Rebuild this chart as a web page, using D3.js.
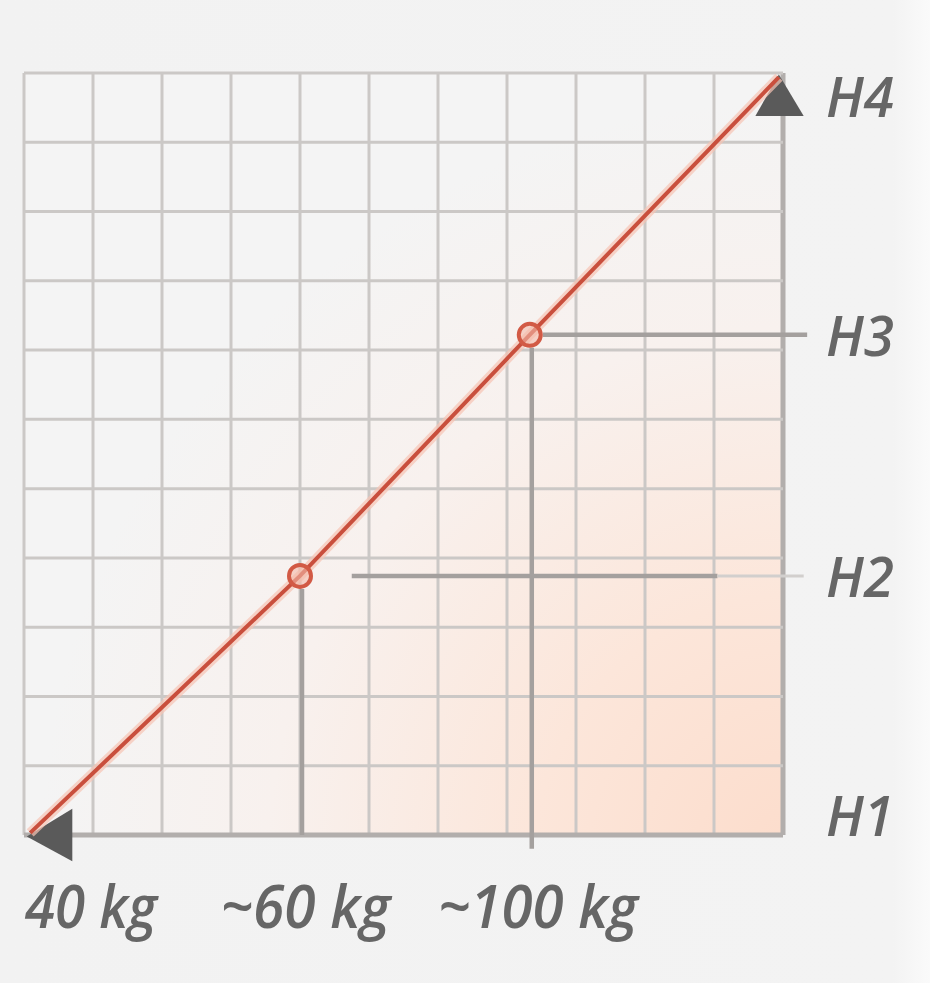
<!DOCTYPE html>
<html>
<head>
<meta charset="utf-8">
<script src="https://cdn.jsdelivr.net/npm/d3@7"></script>
<style>
  html, body { margin: 0; padding: 0; background: #f3f3f3; }
  svg { display: block; }
</style>
</head>
<body>
<svg id="chart" width="930" height="983"></svg>
<script>
// ---- data (grid units, 0..11 on both axes) ----
const gridTicks = [0, 1, 2, 3, 4, 5, 6, 7, 8, 9, 10, 11];
const levelLabels = ["H1", "H2", "H3", "H4"];
const levelLabelPos = [0.28, 3.72, 7.2, 10.65];
const weightLabels = ["40 kg", "~60 kg", "~100 kg"];
const weightLabelPos = [0.97, 4.08, 7.45];
const lineX = [0.09, 4.0, 7.33, 10.94];
const lineY = [0.03, 3.74, 7.22, 10.94];
const markerIdx = [1, 2];

const svg = d3.select("#chart");
const W = 930, H = 983;
const x = d3.scaleLinear().domain([0, 11]).range([24, 783]);
const y = d3.scaleLinear().domain([0, 11]).range([835, 73]);

const defs = svg.append("defs");
const rg = defs.append("radialGradient").attr("id", "peach")
  .attr("gradientUnits", "userSpaceOnUse")
  .attr("cx", 800).attr("cy", 860).attr("r", 760);
rg.append("stop").attr("offset", "0").attr("stop-color", "#fcdccb");
rg.append("stop").attr("offset", "0.35").attr("stop-color", "#fce6da");
rg.append("stop").attr("offset", "0.7").attr("stop-color", "#f8f1ee");
rg.append("stop").attr("offset", "1").attr("stop-color", "#f4f4f4");

const bg = defs.append("linearGradient").attr("id", "pagebg")
  .attr("x1", 0).attr("y1", 0).attr("x2", 1).attr("y2", 0);
bg.append("stop").attr("offset", "0").attr("stop-color", "#f2f2f2");
bg.append("stop").attr("offset", "0.96").attr("stop-color", "#f3f3f3");
bg.append("stop").attr("offset", "1").attr("stop-color", "#fafafa");

svg.append("rect").attr("width", W).attr("height", H).attr("fill", "url(#pagebg)");
// plot area background
svg.append("rect")
  .attr("x", x(0)).attr("y", y(11))
  .attr("width", x(11) - x(0)).attr("height", y(0) - y(11))
  .attr("fill", "url(#peach)");

// grid
const g = svg.append("g");
g.selectAll("line.v").data(gridTicks).join("line")
  .attr("x1", d => x(d)).attr("x2", d => x(d))
  .attr("y1", y(0)).attr("y2", y(11))
  .attr("stroke", d => d === 11 ? "#b2aeac" : "#cbc8c6")
  .attr("stroke-width", d => d === 11 ? 5 : 3);
g.selectAll("line.h").data(gridTicks).join("line")
  .attr("y1", d => y(d)).attr("y2", d => y(d))
  .attr("x1", x(0)).attr("x2", x(11))
  .attr("stroke", d => d === 0 ? "#b2aeac" : "#cbc8c6")
  .attr("stroke-width", d => d === 0 ? 5 : 3);

// guide lines from markers
const guide = svg.append("g").attr("stroke", "#a4a09e").attr("stroke-width", 4.5).attr("fill", "none");
// vertical drops
guide.append("line")
  .attr("x1", x(lineX[1]) + 2).attr("x2", x(lineX[1]) + 2)
  .attr("y1", y(lineY[1]) + 13).attr("y2", y(0));
guide.append("line")
  .attr("x1", x(lineX[2]) + 2).attr("x2", x(lineX[2]) + 2)
  .attr("y1", y(lineY[2]) + 13).attr("y2", y(-0.2));
// horizontals
guide.append("line")
  .attr("x1", x(4.75)).attr("x2", x(10.05))
  .attr("y1", y(lineY[1])).attr("y2", y(lineY[1]));
guide.append("line")
  .attr("x1", x(10.05)).attr("x2", x(11.3))
  .attr("y1", y(lineY[1])).attr("y2", y(lineY[1]))
  .attr("stroke", "#d2cfcd").attr("stroke-width", 3);
guide.append("line")
  .attr("x1", x(lineX[2]) + 13).attr("x2", x(11.35))
  .attr("y1", y(lineY[2])).attr("y2", y(lineY[2]));

// arrowheads
svg.append("path")
  .attr("d", `M${x(0.04)},${y(-0.02)} L${x(0.7)},${y(0.38)} L${x(0.7)},${y(-0.38)} Z`)
  .attr("fill", "#5a5a5a");
svg.append("path")
  .attr("d", `M${x(10.94)},${y(10.98)} L${x(10.6)},${y(10.38)} L${x(11.3)},${y(10.38)} Z`)
  .attr("fill", "#5a5a5a");

// red line
const pts = lineX.map((d, i) => [x(d), y(lineY[i])]);
const lg = d3.line();
svg.append("path").attr("d", lg(pts)).attr("fill", "none")
  .attr("stroke", "#f6c3b4").attr("stroke-width", 10).attr("stroke-opacity", 0.7);
svg.append("path").attr("d", lg(pts)).attr("fill", "none")
  .attr("stroke", "#c94f3d").attr("stroke-width", 4);

// markers
svg.selectAll("circle.m").data(markerIdx).join("circle")
  .attr("cx", i => x(lineX[i])).attr("cy", i => y(lineY[i]))
  .attr("r", 11)
  .attr("fill", "#f3b9a8").attr("fill-opacity", 0.6)
  .attr("stroke", "#d25a45").attr("stroke-width", 4);

// labels
const font = "'Open Sans', 'Liberation Sans', sans-serif";
svg.selectAll("text.lvl").data(levelLabels).join("text")
  .attr("x", 826).attr("y", (d, i) => y(levelLabelPos[i]))
  .attr("dy", "0.36em")
  .attr("font-family", font).attr("font-style", "italic").attr("font-weight", 600)
  .attr("font-size", 56).attr("fill", "#666")
  .attr("textLength", 68).attr("lengthAdjust", "spacingAndGlyphs")
  .text(d => d);

const wWidths = [132, 170, 200];
svg.selectAll("text.w").data(weightLabels).join("text")
  .attr("x", (d, i) => x(weightLabelPos[i]) - wWidths[i] / 2)
  .attr("y", 928)
  .attr("font-family", font).attr("font-style", "italic").attr("font-weight", 600)
  .attr("font-size", 60).attr("fill", "#666")
  .attr("textLength", (d, i) => wWidths[i]).attr("lengthAdjust", "spacingAndGlyphs")
  .text(d => d);
</script>
</body>
</html>
